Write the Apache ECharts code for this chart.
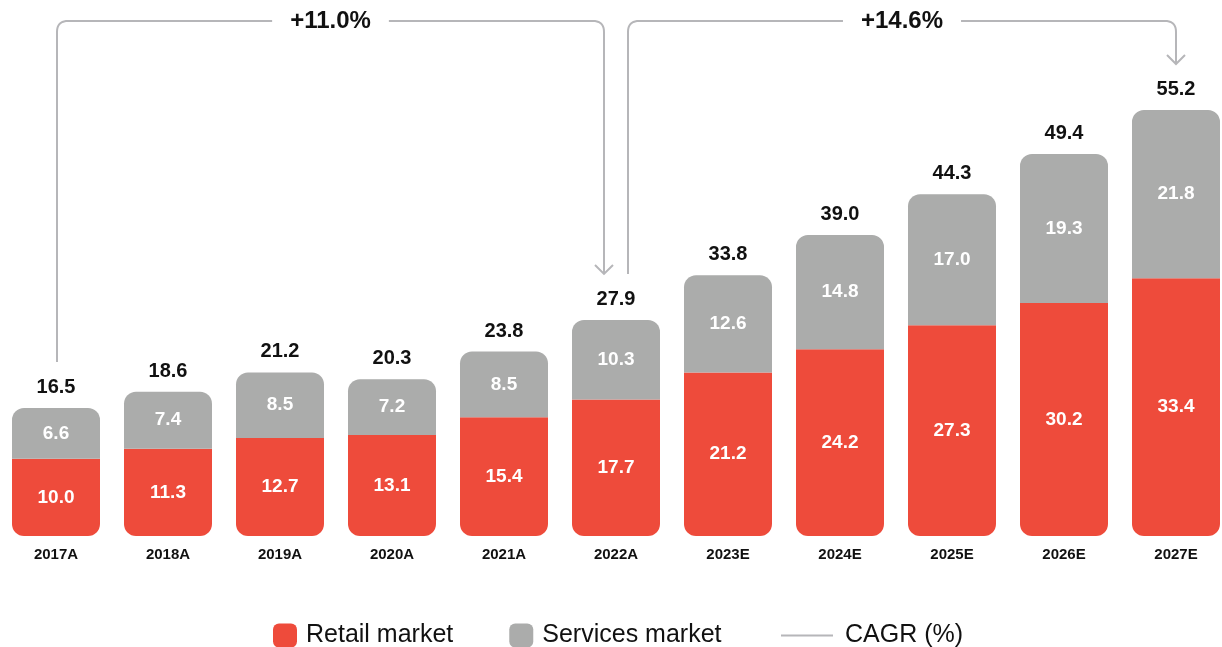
<!DOCTYPE html>
<html>
<head>
<meta charset="utf-8">
<script src="https://cdn.jsdelivr.net/npm/echarts@6/dist/echarts.min.js"></script>
<style>
  html, body { margin: 0; padding: 0; background: #fff; }
  #chart { width: 1222px; height: 647px; }
</style>
</head>
<body>
<div id="chart"></div>
<script>
// Market size by year, split into retail and services
const categories = ['2017A', '2018A', '2019A', '2020A', '2021A', '2022A', '2023E', '2024E', '2025E', '2026E', '2027E'];
const retail = [10.0, 11.3, 12.7, 13.1, 15.4, 17.7, 21.2, 24.2, 27.3, 30.2, 33.4];
const services = [6.6, 7.4, 8.5, 7.2, 8.5, 10.3, 12.6, 14.8, 17.0, 19.3, 21.8];
const totals = [16.5, 18.6, 21.2, 20.3, 23.8, 27.9, 33.8, 39.0, 44.3, 49.4, 55.2];

// Growth brackets drawn above the bars
const cagrFrom = ['2017A', '2022A'];
const cagrTo = ['2022A', '2027E'];
const cagrLabels = ['+11.0%', '+14.6%'];

const RED = '#EE4B3B';
const GREY = '#ABACAB';
const LINE = '#B6B6B9';
const INK = '#111111';
const FONT = "'Liberation Sans', Arial, sans-serif";

const chart = echarts.init(document.getElementById('chart'), null, { renderer: 'canvas' });
const fmt = p => Number(p.value).toFixed(1);

chart.setOption({
  animation: false,
  backgroundColor: '#fff',
  textStyle: { fontFamily: FONT },
  grid: { left: 0, width: 1232, top: 73, bottom: 111, outerBoundsMode: 'none' },
  legend: [
    {
      data: ['Retail market', 'Services market'],
      left: 268, top: 618,
      icon: 'roundRect', itemWidth: 24, itemHeight: 24, itemGap: 56,
      textStyle: { fontSize: 25, color: INK, fontFamily: FONT, padding: [0, 0, 0, 4] }
    },
    {
      data: [{ name: 'CAGR (%)', icon: 'rect' }],
      left: 776, top: 618,
      itemWidth: 52, itemHeight: 2,
      itemStyle: { color: LINE },
      textStyle: { fontSize: 25, color: INK, fontFamily: FONT, padding: [0, 0, 0, 7] }
    }
  ],
  xAxis: {
    type: 'category',
    data: categories,
    axisLine: { show: false },
    axisTick: { show: false },
    axisLabel: { margin: 11, fontSize: 15, fontWeight: 'bold', color: INK, fontFamily: FONT }
  },
  yAxis: { type: 'value', min: 0, max: 60, show: false, splitLine: { show: false } },
  series: [
    {
      name: 'Retail market', type: 'bar', stack: 'market', data: retail,
      barWidth: 88,
      itemStyle: { color: RED, borderRadius: [0, 0, 12, 12] },
      label: { show: true, position: 'inside', formatter: fmt, color: '#fff', fontSize: 19, fontWeight: 'bold', fontFamily: FONT }
    },
    {
      name: 'Services market', type: 'bar', stack: 'market', data: services,
      barWidth: 88,
      itemStyle: { color: GREY, borderRadius: [12, 12, 0, 0] },
      label: { show: true, position: 'inside', formatter: fmt, color: '#fff', fontSize: 19, fontWeight: 'bold', fontFamily: FONT }
    },
    {
      // Invisible total bar that carries the value above each stack
      name: 'Total', type: 'bar', data: totals,
      barWidth: 88, barGap: '-100%', silent: true, z: 1,
      itemStyle: { color: 'rgba(255,255,255,0)' },
      label: { show: true, position: 'top', distance: 11, formatter: fmt, color: INK, fontSize: 20, fontWeight: 'bold', fontFamily: FONT }
    },
    {
      name: 'CAGR (%)', type: 'line', data: [], color: LINE, lineStyle: { color: LINE, width: 2 }
    }
  ]
});

// Polyline through the given points with rounded inner corners
function roundedPoints(pts, r) {
  const out = [pts[0]];
  for (let i = 1; i < pts.length - 1; i++) {
    const [px, py] = pts[i - 1], [cx, cy] = pts[i], [nx, ny] = pts[i + 1];
    const d1 = Math.hypot(cx - px, cy - py), d2 = Math.hypot(nx - cx, ny - cy);
    const a = [cx - (cx - px) / d1 * r, cy - (cy - py) / d1 * r];
    const b = [cx + (nx - cx) / d2 * r, cy + (ny - cy) / d2 * r];
    const steps = 10;
    for (let s = 0; s <= steps; s++) {
      const t = s / steps;
      const x = (1 - t) * (1 - t) * a[0] + 2 * (1 - t) * t * cx + t * t * b[0];
      const y = (1 - t) * (1 - t) * a[1] + 2 * (1 - t) * t * cy + t * t * b[1];
      out.push([x, y]);
    }
  }
  out.push(pts[pts.length - 1]);
  return out;
}

function drawCagr() {
  const els = [];
  const lineY = 21;
  const rise = 46;
  const lineStyle = { stroke: LINE, lineWidth: 2, fill: null };
  for (let i = 0; i < cagrLabels.length; i++) {
    const fi = categories.indexOf(cagrFrom[i]);
    const ti = categories.indexOf(cagrTo[i]);
    const sx = chart.convertToPixel({ xAxisIndex: 0 }, cagrFrom[i]) + (cagrTo.includes(cagrFrom[i]) ? 12 : 1);
    const ex = chart.convertToPixel({ xAxisIndex: 0 }, cagrTo[i]) + (cagrFrom.includes(cagrTo[i]) ? -12 : 0);
    const sy = chart.convertToPixel({ yAxisIndex: 0 }, retail[fi] + services[fi]) - rise;
    const ey = chart.convertToPixel({ yAxisIndex: 0 }, retail[ti] + services[ti]) - rise;
    els.push({
      type: 'polyline', silent: true, z: 10,
      shape: { points: roundedPoints([[sx, sy], [sx, lineY], [ex, lineY], [ex, ey]], 11) },
      style: lineStyle
    });
    els.push({
      type: 'polyline', silent: true, z: 10,
      shape: { points: [[ex - 9, ey - 9], [ex, ey], [ex + 9, ey - 9]] },
      style: lineStyle
    });
    els.push({
      type: 'text', silent: true, z: 20,
      x: (sx + ex) / 2, y: lineY,
      style: {
        text: cagrLabels[i], fill: INK, font: 'bold 24px ' + FONT,
        align: 'center', verticalAlign: 'middle',
        backgroundColor: '#fff', padding: [4, 18]
      }
    });
  }
  chart.setOption({ graphic: els });
}
drawCagr();
</script>
</body>
</html>
